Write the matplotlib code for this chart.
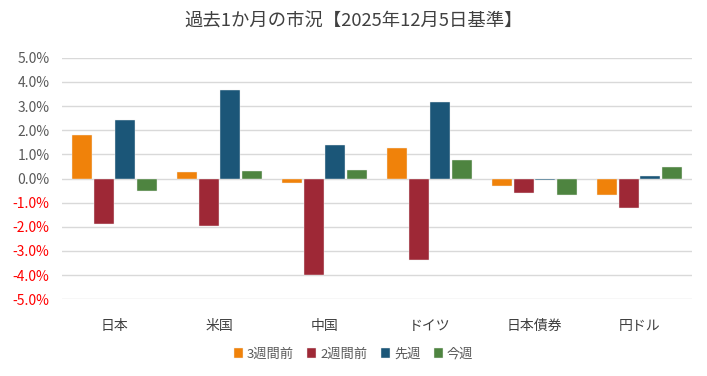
import matplotlib
matplotlib.use("Agg")
import matplotlib.pyplot as plt
import numpy as np
from matplotlib.ticker import FuncFormatter

plt.rcParams['font.family'] = ['Noto Sans CJK JP', 'DejaVu Sans']

categories = ["日本", "米国", "中国", "ドイツ", "日本債券", "円ドル"]
series_names = ["3週間前", "2週間前", "先週", "今週"]
w3 = [1.80, 0.26, -0.20, 1.27, -0.32, -0.70]
w2 = [-1.87, -1.98, -4.00, -3.36, -0.58, -1.24]
w1 = [2.41, 3.65, 1.37, 3.15, -0.08, 0.12]
w0 = [-0.50, 0.29, 0.34, 0.77, -0.70, 0.47]
series = [w3, w2, w1, w0]
colors = ["#F0820A", "#9E2836", "#1B5678", "#4E8440"]
yticks = [5, 4, 3, 2, 1, 0, -1, -2, -3, -4, -5]
title = "過去1か月の市況【2025年12月5日基準】"

fig = plt.figure(figsize=(7.07, 3.76), dpi=100)
ax = fig.add_axes([62/707, 1-299.3/376, 630/707, (299.3-57.7)/376])

x = np.arange(len(categories))
slot = 0.205
bw = 0.186
for i, (vals, c, n) in enumerate(zip(series, colors, series_names)):
    ax.bar(x + (i - 1.5) * slot, vals, width=bw, color=c, label=n,
           edgecolor="#EEEEEE", linewidth=0.3, zorder=3)

ax.set_xlim(-0.5, len(categories) - 0.5)
ax.set_ylim(-5.0, 5.0)
ax.set_yticks(yticks)
ax.yaxis.set_major_formatter(FuncFormatter(lambda v, p: f"{v:.1f}%"))
ax.grid(axis="y", color="#D9D9D9", linewidth=1.0, zorder=0)
ax.set_axisbelow(True)
for s in ax.spines.values():
    s.set_visible(False)
ax.tick_params(axis="both", length=0)
ax.tick_params(axis="y", labelsize=10, pad=9)
ax.tick_params(axis="x", labelsize=10, pad=14, labelcolor="#404040")
ax.set_xticks(x)
ax.set_xticklabels(categories)
for lbl, v in zip(ax.get_yticklabels(), ax.get_yticks()):
    lbl.set_color("#FF0000" if v < 0 else "#595959")

fig.text(0.5, 1-22/376, title, ha="center", va="center", fontsize=13.2, color="#404040")

leg = fig.legend(loc="center", bbox_to_anchor=(0.5, 1-354/376), ncol=4, frameon=False,
                 fontsize=9.5, handlelength=0.7, handleheight=0.7, handletextpad=0.3,
                 columnspacing=1.0)
for t in leg.get_texts():
    t.set_color("#595959")

fig.savefig("out.png", dpi=100)
